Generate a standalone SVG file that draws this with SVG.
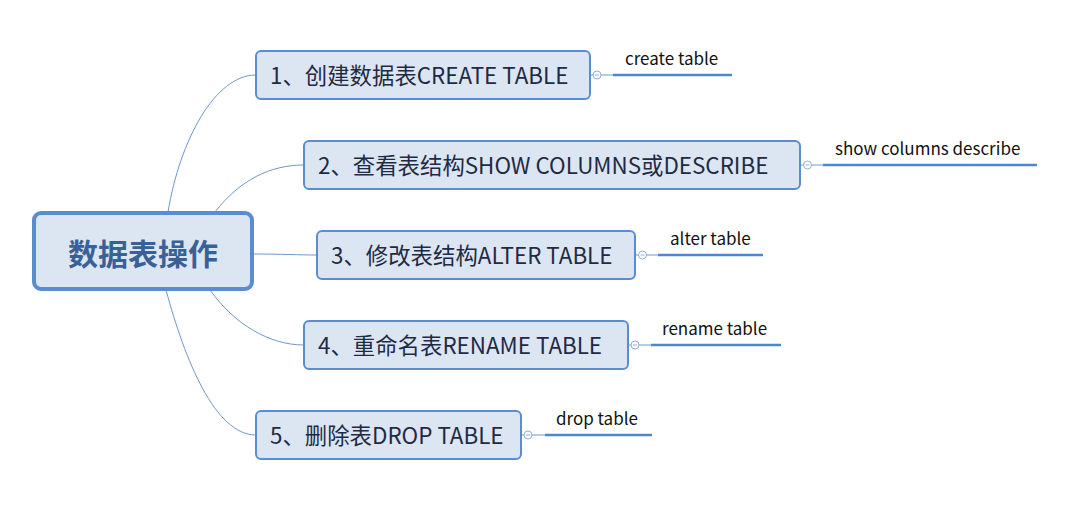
<svg xmlns="http://www.w3.org/2000/svg" width="1071" height="519" viewBox="0 0 1071 519">
<style>
.node rect{fill:#dce6f2;stroke:#5b8cd0;stroke-width:2}
.node text{font-family:"Microsoft YaHei","Noto Sans CJK SC",sans-serif;font-size:22.4px;fill:#1f2a44}
.lbl{font-family:"Noto Sans CJK SC",sans-serif;font-size:17px;fill:#111}
.conn path{fill:none;stroke:#6f97cc;stroke-width:1}
.conn .thick{stroke:#4f86d2;stroke-width:2.5}
.conn circle{fill:#fff;stroke:#8fb0da;stroke-width:1}
.conn .minus{stroke:#8fb0da;stroke-width:1}
</style>
<rect width="1071" height="519" fill="#fff"/>
<g class="conn">
<path d="M168,212 C180,140 215,75 256,75"/>
<path d="M215,212 C240,180 270,165 304,165"/>
<path d="M253,254 C280,254 300,255 317,255"/>
<path d="M210,290 C235,325 270,345 304,345"/>
<path d="M166,290 C185,360 215,435 256,435"/>
<path d="M590,75 H613"/><path class="thick" d="M613,75 H732"/>
<path d="M800,165 H823"/><path class="thick" d="M823,165 H1037"/>
<path d="M635,255 H658"/><path class="thick" d="M658,255 H763"/>
<path d="M628,345 H651"/><path class="thick" d="M651,345 H781"/>
<path d="M521,435 H545"/><path class="thick" d="M545,435 H652"/>
<circle cx="597" cy="75" r="4"/><path class="minus" d="M595,75 H599"/>
<circle cx="807.5" cy="165" r="4"/><path class="minus" d="M805.5,165 H809.5"/>
<circle cx="642.5" cy="255" r="4"/><path class="minus" d="M640.5,255 H644.5"/>
<circle cx="635" cy="345" r="4"/><path class="minus" d="M633,345 H637"/>
<circle cx="528" cy="435" r="4"/><path class="minus" d="M526,435 H530"/>
</g>
<g id="root"><rect x="34" y="213" width="218" height="76" rx="7" fill="#dce6f2" stroke="#5b8cd0" stroke-width="4"/>
<text x="143" y="265" text-anchor="middle" font-family="Microsoft YaHei,'Noto Sans CJK SC',sans-serif" font-size="30" font-weight="bold" fill="#3a6196">数据表操作</text></g>
<g id="n1" class="node"><rect x="256" y="51" width="334" height="48" rx="5"/><text x="270" y="84">1、创建数据表CREATE TABLE</text></g>
<g id="n2" class="node"><rect x="304" y="141" width="496" height="48" rx="5"/><text x="318" y="174">2、查看表结构SHOW COLUMNS或DESCRIBE</text></g>
<g id="n3" class="node"><rect x="317" y="231" width="318" height="48" rx="5"/><text x="331" y="264">3、修改表结构ALTER TABLE</text></g>
<g id="n4" class="node"><rect x="304" y="321" width="324" height="48" rx="5"/><text x="318" y="354">4、重命名表RENAME TABLE</text></g>
<g id="n5" class="node"><rect x="256" y="411" width="265" height="48" rx="5"/><text x="270" y="444">5、删除表DROP TABLE</text></g>
<g id="l1"><text class="lbl" x="625" y="65">create table</text></g>
<g id="l2"><text class="lbl" x="835" y="155">show columns describe</text></g>
<g id="l3"><text class="lbl" x="670" y="245">alter table</text></g>
<g id="l4"><text class="lbl" x="662" y="335">rename table</text></g>
<g id="l5"><text class="lbl" x="556" y="425">drop table</text></g>
</svg>
